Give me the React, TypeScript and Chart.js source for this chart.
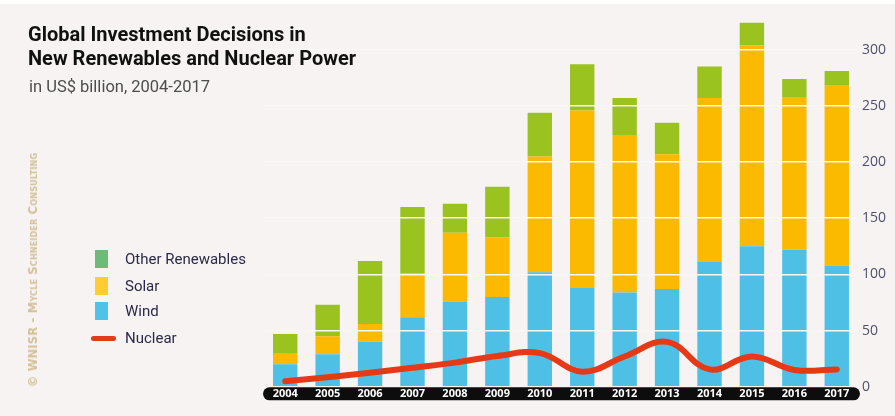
import React, { useEffect, useRef } from "react";
import { Chart, registerables } from "chart.js";

Chart.register(...registerables);

const years = ["2004", "2005", "2006", "2007", "2008", "2009", "2010", "2011", "2012", "2013", "2014", "2015", "2016", "2017"];
const wind = [20, 29, 40, 62, 76, 80, 102, 88, 84, 87, 111, 125, 122, 108];
const solar = [10, 16, 16, 39, 61, 53, 103, 158, 140, 120, 146, 179, 136, 160];
const otherRenewables = [17, 28, 56, 59, 26, 45, 39, 41, 33, 28, 28, 20, 16, 13];
const nuclear = [5, 8.5, 12.5, 17, 21.5, 27.5, 30, 13.5, 27, 40, 15.5, 27, 15, 15.5];
const yTicks = [0, 50, 100, 150, 200, 250, 300];

const BG = "#f6f3f2";

const bandPlugin = {
  id: "band",
  beforeDraw(chart: any) {
    const { ctx, chartArea } = chart;
    const top = chartArea.bottom + 0.5;
    const h = 13;
    const left = chartArea.left - 1;
    const right = chartArea.right + 2;
    const r = h / 2;
    ctx.save();
    ctx.fillStyle = "#0d0d0d";
    ctx.beginPath();
    ctx.moveTo(left + r, top);
    ctx.lineTo(right - r, top);
    ctx.arc(right - r, top + r, r, -Math.PI / 2, Math.PI / 2);
    ctx.lineTo(left + r, top + h);
    ctx.arc(left + r, top + r, r, Math.PI / 2, (3 * Math.PI) / 2);
    ctx.closePath();
    ctx.fill();
    ctx.restore();
  },
};

export default function App() {
  const ref = useRef<HTMLCanvasElement>(null);
  useEffect(() => {
    document.body.style.margin = "0";
    const chart = new Chart(ref.current!, {
      type: "bar",
      data: {
        labels: years,
        datasets: [
          {
            type: "line",
            label: "Nuclear",
            data: nuclear,
            borderColor: "#e63a16",
            borderWidth: 6,
            tension: 0.4,
            pointRadius: 0,
            borderCapStyle: "round",
            borderJoinStyle: "round",
            stack: "nuc",
            order: 0,
          } as any,
          { label: "Wind", data: wind, backgroundColor: "#4fc0e5", stack: "re", order: 1 },
          { label: "Solar", data: solar, backgroundColor: "#fbb900", stack: "re", order: 1 },
          { label: "Other Renewables", data: otherRenewables, backgroundColor: "#9ac31f", stack: "re", order: 1 },
        ],
      },
      options: {
        animation: false,
        responsive: false,
        maintainAspectRatio: false,
        layout: { padding: { left: 264, top: 16, bottom: 16, right: 0 } },
        datasets: { bar: { categoryPercentage: 1, barPercentage: 0.575 } } as any,
        plugins: { legend: { display: false }, tooltip: { enabled: false }, title: { display: false } },
        scales: {
          x: {
            stacked: true,
            grid: { display: false, drawTicks: false },
            border: { display: false },
            ticks: {
              color: "#ffffff",
              padding: 0,
              maxRotation: 0,
              autoSkip: false,
              font: { family: "'Open Sans', sans-serif", weight: "bold", size: 11 },
            },
          },
          y: {
            stacked: true,
            position: "right",
            min: 0,
            max: 330,
            afterBuildTicks: (scale: any) => {
              scale.ticks = yTicks.map((v) => ({ value: v }));
            },
            afterFit: (scale: any) => {
              scale.width = 37;
            },
            grid: {
              z: 1,
              drawTicks: false,
              lineWidth: 1.6,
              color: (c: any) => (c.tick && c.tick.value === 0 ? "rgba(0,0,0,0)" : "#f9f7f6"),
            },
            border: { display: false },
            ticks: {
              padding: 4,
              color: "#50506a",
              font: { family: "'Open Sans', sans-serif", size: 14 },
            },
          },
        },
      } as any,
      plugins: [bandPlugin],
    });
    return () => chart.destroy();
  }, []);

  const legendItems = [
    { label: "Other Renewables", color: "#6cbc78", top: 250 },
    { label: "Solar", color: "#ffcc33", top: 277 },
    { label: "Wind", color: "#4fc2e7", top: 302 },
  ];

  return (
    <div
      style={{
        position: "fixed",
        left: 0,
        top: 0,
        width: 895,
        height: 416,
        background: BG,
        overflow: "hidden",
        fontFamily: "Roboto, sans-serif",
      }}
    >
      <div style={{ position: "absolute", left: 0, top: 0, width: 895, height: 4, background: "#ffffff" }} />
      <canvas ref={ref} width={895} height={416} style={{ position: "absolute", left: 0, top: 0 }} />
      <div
        style={{
          position: "absolute",
          left: 28,
          top: 22,
          fontSize: 20,
          fontWeight: 700,
          lineHeight: "24px",
          color: "#111",
          whiteSpace: "nowrap",
        }}
      >
        Global Investment Decisions in
        <br />
        New Renewables and Nuclear Power
      </div>
      <div style={{ position: "absolute", left: 29, top: 77, fontSize: 16.5, color: "#4d4d4d", whiteSpace: "nowrap" }}>
        in US$ billion, 2004-2017
      </div>
      {legendItems.map((it) => (
        <React.Fragment key={it.label}>
          <div style={{ position: "absolute", left: 95, top: it.top, width: 13, height: 18, background: it.color }} />
          <div
            style={{
              position: "absolute",
              left: 125,
              top: it.top,
              height: 18,
              lineHeight: "18px",
              fontSize: 15,
              color: "#2a2a48",
              whiteSpace: "nowrap",
            }}
          >
            {it.label}
          </div>
        </React.Fragment>
      ))}
      <div
        style={{
          position: "absolute",
          left: 91,
          top: 335.5,
          width: 25,
          height: 5,
          borderRadius: 3,
          background: "#e63a16",
        }}
      />
      <div
        style={{
          position: "absolute",
          left: 125,
          top: 329,
          height: 18,
          lineHeight: "18px",
          fontSize: 15,
          color: "#2a2a48",
        }}
      >
        Nuclear
      </div>
      <div
        style={{
          position: "absolute",
          left: 33,
          top: 270,
          transform: "translate(-50%, -50%) rotate(-90deg)",
          whiteSpace: "nowrap",
          fontSize: 11.5,
          fontWeight: 700,
          fontVariant: "small-caps",
          fontFamily: "'DejaVu Sans', sans-serif",
          color: "#d3c09a",
          letterSpacing: 0.2,
        }}
      >
        © WNISR - Mycle Schneider Consulting
      </div>
    </div>
  );
}
